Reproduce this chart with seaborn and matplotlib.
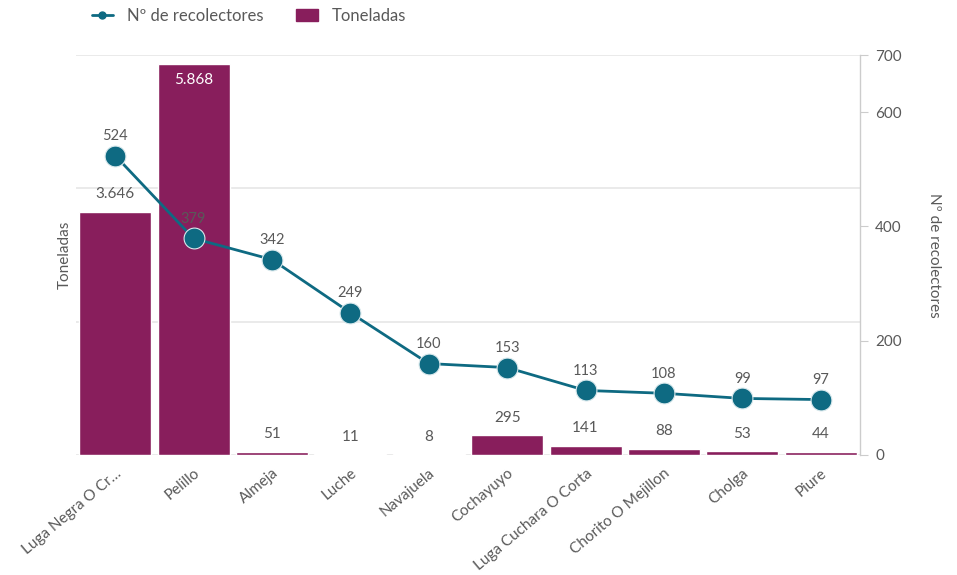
import matplotlib
matplotlib.use("Agg")
import matplotlib.pyplot as plt
from matplotlib.lines import Line2D
from matplotlib.patches import Patch
import seaborn as sns
import numpy as np
import pandas as pd

categories = ["Luga Negra O Cr…", "Pelillo", "Almeja", "Luche", "Navajuela", "Cochayuyo",
              "Luga Cuchara O Corta", "Chorito O Mejillon", "Cholga", "Piure"]
toneladas = [3646, 5868, 51, 11, 8, 295, 141, 88, 53, 44]
recolectores = [524, 379, 342, 249, 160, 153, 113, 108, 99, 97]

BAR = "#881E5C"
LINE = "#0E6A82"
GREY = "#595959"
GRID = "#E6E6E6"

sns.set_theme(style="white")
plt.rcParams["font.family"] = ["Lato", "DejaVu Sans"]

df = pd.DataFrame({"cat": categories, "ton": toneladas, "rec": recolectores})

fig = plt.figure(figsize=(9.57, 5.75), dpi=100)
ax = fig.add_axes([0.0794, 0.2087, 0.8192, 0.6956])

sns.barplot(data=df, x="cat", y="ton", color=BAR, saturation=1, width=0.92, ax=ax, zorder=2)
ax.set_ylim(0, 6000)
ax.set_xlim(-0.5, len(categories) - 0.5)
ax.set_yticks([0, 2000, 4000, 6000])
ax.yaxis.grid(True, color=GRID, linewidth=1.2, zorder=0)
ax.set_axisbelow(True)
ax.set_xlabel("")
for s in ["top", "right", "left", "bottom"]:
    ax.spines[s].set_visible(False)
ax.set_xticks(range(len(categories)))
ax.set_xticklabels(categories, rotation=40, ha="right", rotation_mode="anchor",
                   color=GREY, fontsize=11)

def fmt(v):
    return f"{v:,}".replace(",", ".")

for i, v in enumerate(toneladas):
    if v > 5000:
        ax.text(i, v - 140, fmt(v), ha="center", va="top", color="white", fontsize=11, zorder=5)
    else:
        ax.text(i, v + 160, fmt(v), ha="center", va="bottom", color=GREY, fontsize=11, zorder=5)

ax2 = ax.twinx()
sns.lineplot(x=np.arange(len(categories)), y=recolectores, ax=ax2, color=LINE, linewidth=2,
             marker="o", markersize=15, markeredgecolor="#D8E8EC", markeredgewidth=0.8, zorder=4)
ax2.set_ylim(0, 700)
ax2.set_xlim(-0.5, len(categories) - 0.5)
ax2.set_yticks([0, 200, 400, 600, 700])
ax2.tick_params(axis="y", right=True, left=False, length=6, width=0.8, color="#CCCCCC",
                labelcolor=GREY, labelsize=11, pad=5)
for s in ["top", "left", "bottom"]:
    ax2.spines[s].set_visible(False)
ax2.spines["right"].set_color("#CCCCCC")
ax2.spines["right"].set_linewidth(1)
ax2.set_ylabel("Nº de recolectores", color=GREY, fontsize=11, rotation=-90, labelpad=28)
ax2.grid(False)

# left axis: no ticks (twinx re-enables them, so set afterwards)
ax.tick_params(axis="y", left=False, right=False, labelleft=False, labelright=False)
ax.tick_params(axis="x", bottom=False, pad=2)
ax.set_ylabel("Toneladas", color=GREY, fontsize=11, labelpad=3)

for i, v in enumerate(recolectores):
    ax2.text(i, v + 22, str(v), ha="center", va="bottom", color=GREY, fontsize=10.5, zorder=6)

handles = [
    Line2D([0], [0], color=LINE, linewidth=2, marker="o", markersize=5),
    Patch(facecolor=BAR, edgecolor=BAR),
]
fig.legend(handles, ["Nº de recolectores", "Toneladas"], loc="center left",
           bbox_to_anchor=(0.08, 0.972), ncol=2, frameon=False, fontsize=12,
           labelcolor=GREY, handlelength=1.3, handletextpad=0.8, columnspacing=2.0)

fig.savefig("out.png", dpi=100)
